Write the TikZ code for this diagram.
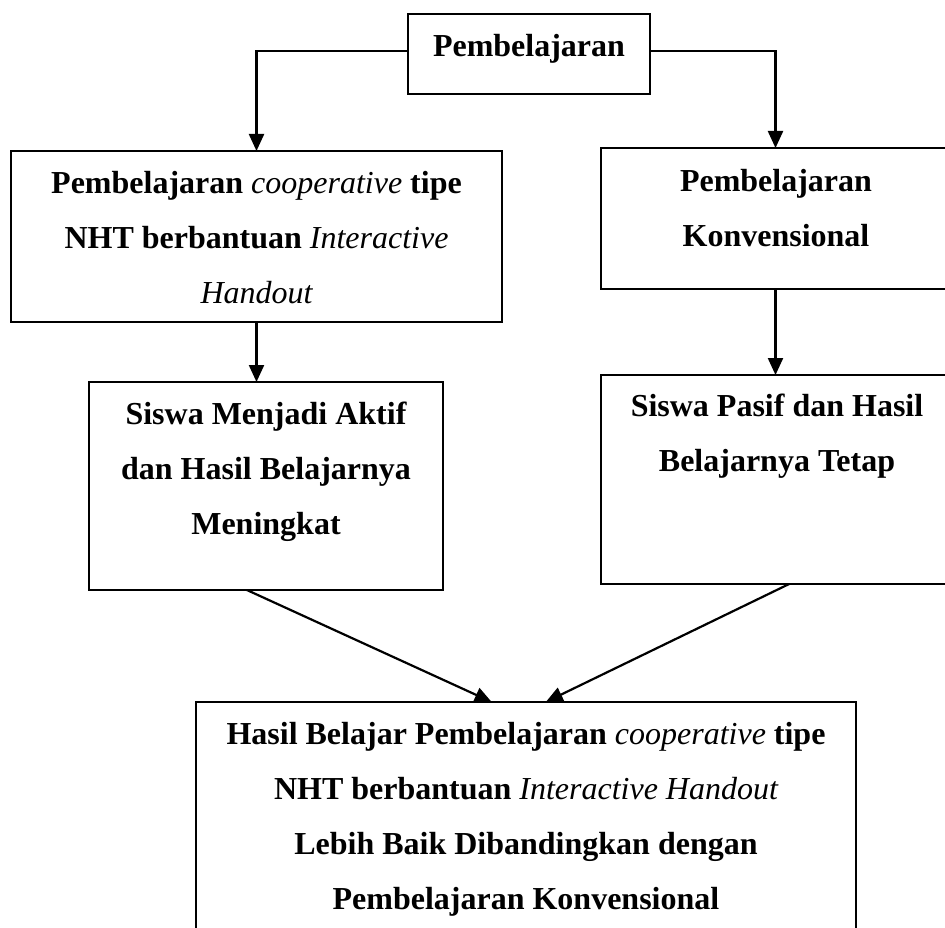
\documentclass[tikz,border=0pt]{standalone}
\usepackage{fontspec}
\setmainfont{Liberation Serif}
\usetikzlibrary{arrows.meta,calc}
\newcommand{\itx}[1]{{\mdseries\itshape #1}}
\begin{document}
\begin{tikzpicture}[x=1pt,y=-1pt,
  box/.style={draw,line width=2.2pt,rectangle,inner sep=0,outer sep=0},
  txt/.style={font=\bfseries\fontsize{32}{55}\selectfont,align=center,anchor=north,inner sep=0},
  arr/.style={line width=2.2pt,-{Triangle[length=17pt,width=15pt]}}]
\useasboundingbox (0,0) rectangle (945,928);
\clip (0,0) rectangle (945,928);
% boxes
\node[box,minimum width=242pt,minimum height=80pt] (top) at (529,54) {};
\node[box,minimum width=491pt,minimum height=171pt] (L1) at (256.5,236.5) {};
\node[box,minimum width=349pt,minimum height=141pt] (R1) at (775.5,218.5) {};
\node[box,minimum width=354pt,minimum height=208pt] (L2) at (266,486) {};
\node[box,minimum width=349pt,minimum height=209pt] (R2) at (775.5,479.5) {};
\node[box,minimum width=660pt,minimum height=238pt] (B) at (526,821) {};
% texts
\node[txt] (ttop) at (529,34) {Pembelajaran};
\node[txt] (tL1) at (256.5,171) {Pembelajaran \itx{cooperative} tipe\\NHT berbantuan \itx{Interactive}\\\itx{Handout}};
\node[txt] (tR1) at (776,169) {Pembelajaran\\Konvensional};
\node[txt] (tL2) at (266,402) {Siswa Menjadi Aktif\\dan Hasil Belajarnya\\Meningkat};
\node[txt] (tR2) at (777,394) {Siswa Pasif dan Hasil\\Belajarnya Tetap};
\node[txt] (tB) at (526,722) {Hasil Belajar Pembelajaran \itx{cooperative} tipe\\NHT berbantuan \itx{Interactive Handout}\\Lebih Baik Dibandingkan dengan\\Pembelajaran Konvensional};
% connectors
\draw[arr] (top.west |- 0,51) -| (L1.north);
\draw[arr] (top.east |- 0,51) -| (R1.north);
\draw[arr] (L1.south) -- (L1.south |- L2.north);
\draw[arr] (R1.south) -- (R2.north);
\draw[arr] ($(L2.south west)!0.446!(L2.south east)$) -- ($(B.north west)!0.448!(B.north east)$);
\draw[arr] ($(R2.south west)!0.539!(R2.south east)$) -- ($(B.north west)!0.530!(B.north east)$);
\end{tikzpicture}
\end{document}
